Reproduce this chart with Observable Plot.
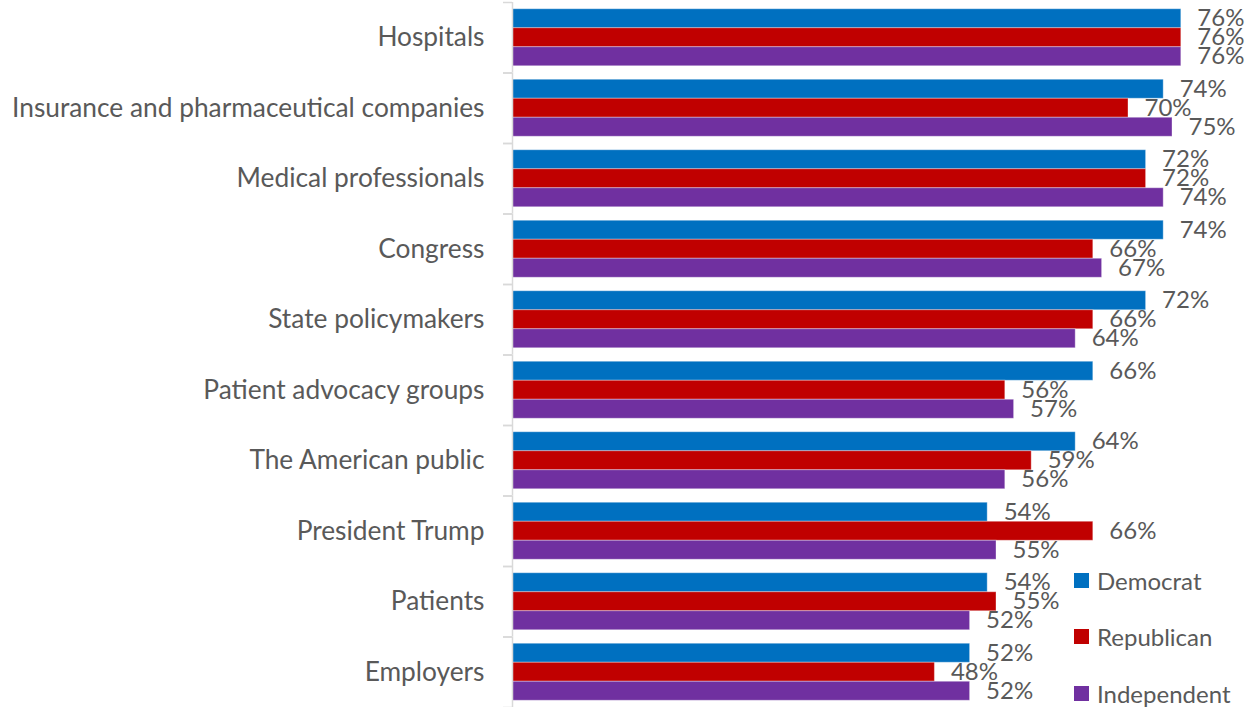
<!DOCTYPE html>
<html>
<head>
<meta charset="utf-8">
<script src="https://cdn.jsdelivr.net/npm/d3@7"></script>
<script src="https://cdn.jsdelivr.net/npm/@observablehq/plot@0.6"></script>
<style>
  html, body { margin: 0; padding: 0; background: #fff; }
  #wrap { position: relative; width: 1251px; height: 707px; font-family: Lato, "Open Sans", sans-serif; }
  #legend { position: absolute; left: 1074px; top: 566px; color: #595959; font-size: 24px; }
  #legend .item { display: flex; align-items: center; height: 28px; margin-bottom: 28.5px; }
  #legend .sw { width: 15px; height: 15px; margin-right: 8px; }
</style>
</head>
<body>
<div id="wrap"><div id="legend"></div></div>
<script>
const categories = [
  "Hospitals",
  "Insurance and pharmaceutical companies",
  "Medical professionals",
  "Congress",
  "State policymakers",
  "Patient advocacy groups",
  "The American public",
  "President Trump",
  "Patients",
  "Employers"
];
const series = ["Democrat", "Republican", "Independent"];
const democrat    = [76, 74, 72, 74, 72, 66, 64, 54, 54, 52];
const republican  = [76, 70, 72, 66, 66, 56, 59, 66, 55, 48];
const independent = [76, 75, 74, 67, 64, 57, 56, 55, 52, 52];
const colors = ["#0070C0", "#C00000", "#7030A0"];

const valuesBySeries = [democrat, republican, independent];
const data = [];
categories.forEach((c, i) => {
  series.forEach((s, j) => data.push({category: c, party: s, value: valuesBySeries[j][i]}));
});

const textColor = "#595959";

const chart = Plot.plot({
  width: 1251,
  height: 707,
  marginLeft: 512,
  marginRight: 35,
  marginTop: 2,
  marginBottom: 0,
  style: {fontFamily: "Lato, 'Open Sans', sans-serif", background: "#fff"},
  x: {domain: [0, 80], axis: null},
  y: {domain: series, paddingInner: 0, paddingOuter: 0.355, round: false, axis: null},
  fy: {domain: categories, padding: 0, round: false},
  color: {domain: series, range: colors},
  marks: [
    Plot.axisFy({anchor: "left", tickSize: 0, tickPadding: 28, fontSize: 26.3, fill: textColor, label: null}),
    Plot.axisFy({anchor: "left", tickSize: 9, tickFormat: () => "", dy: -35.25, stroke: "#d9d9d9", strokeWidth: 1.5, label: null}),
    Plot.axisFy({anchor: "left", tickSize: 9, tickFormat: () => "", dy: 35.25, stroke: "#d9d9d9", strokeWidth: 1.5, label: null}),
    Plot.barX(data, {x: "value", y: "party", fy: "category", fill: "party", stroke: "#ffffff", strokeOpacity: 0.35, strokeWidth: 1}),
    Plot.ruleX([0], {stroke: "#d9d9d9", strokeWidth: 1.5}),
    Plot.text(data, {x: "value", y: "party", fy: "category", text: d => d.value + "%", textAnchor: "start", dx: 16, fontSize: 24, fill: textColor, clip: false})
  ]
});

const wrap = document.getElementById("wrap");
wrap.insertBefore(chart, wrap.firstChild);

const legend = document.getElementById("legend");
series.forEach((s, j) => {
  const item = document.createElement("div");
  item.className = "item";
  const sw = document.createElement("div");
  sw.className = "sw";
  sw.style.background = colors[j];
  const label = document.createElement("span");
  label.textContent = s;
  item.appendChild(sw);
  item.appendChild(label);
  legend.appendChild(item);
});
</script>
</body>
</html>
